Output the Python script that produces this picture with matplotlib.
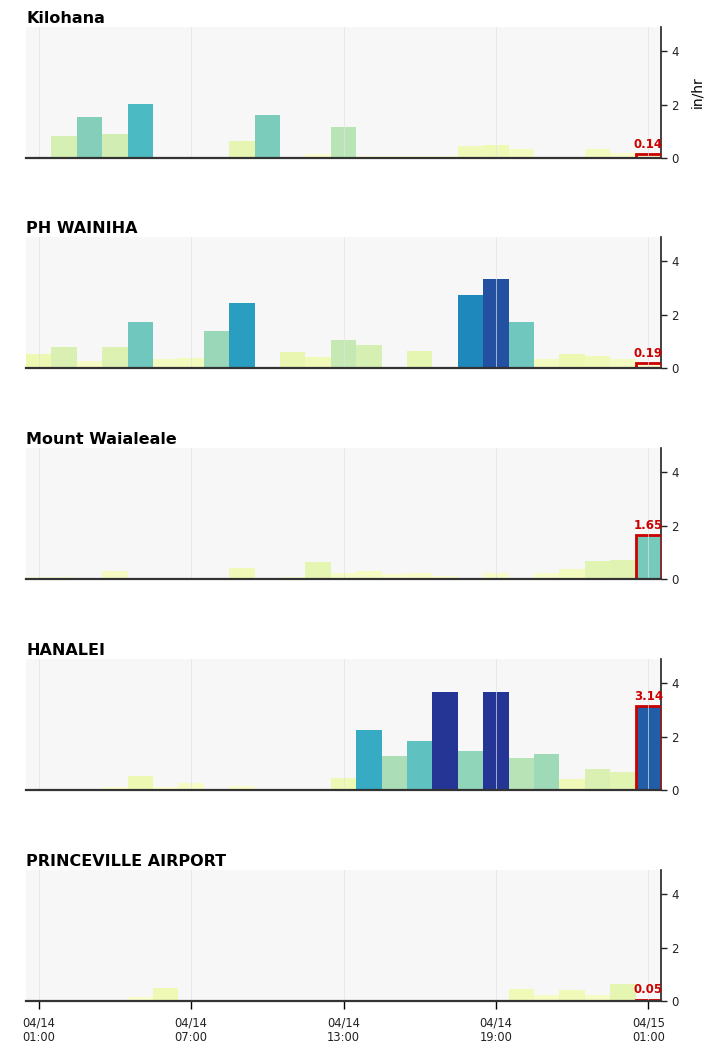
import numpy as np
import matplotlib
matplotlib.use('Agg')
import matplotlib.pyplot as plt
from matplotlib.colors import Normalize

# hourly rain rate (in/hr), 04/14 01:00 .. 04/15 01:00
stations = ['Kilohana', 'PH WAINIHA', 'Mount Waialeale', 'HANALEI', 'PRINCEVILLE AIRPORT']

kilohana = [0.02, 0.84, 1.53, 0.91, 2.01, 0.0, 0.0, 0.0, 0.63, 1.60, 0.05, 0.15, 1.16,
            0.08, 0.08, 0.08, 0.08, 0.44, 0.47, 0.32, 0.0, 0.0, 0.35, 0.17, 0.14]
wainiha = [0.53, 0.80, 0.25, 0.77, 1.72, 0.35, 0.38, 1.39, 2.43, 0.05, 0.60, 0.43, 1.06,
           0.85, 0.03, 0.65, 0.0, 2.72, 3.33, 1.72, 0.35, 0.52, 0.45, 0.33, 0.19]
waialeale = [0.07, 0.07, 0.03, 0.31, 0.03, 0.03, 0.02, 0.03, 0.43, 0.05, 0.08, 0.65, 0.24,
             0.31, 0.19, 0.22, 0.10, 0.05, 0.22, 0.05, 0.21, 0.36, 0.68, 0.72, 1.65]
hanalei = [0.0, 0.0, 0.0, 0.10, 0.51, 0.10, 0.26, 0.03, 0.16, 0.0, 0.0, 0.0, 0.46,
           2.25, 1.26, 1.84, 3.65, 1.46, 3.65, 1.18, 1.35, 0.43, 0.80, 0.68, 3.14]
princeville = [0.0, 0.0, 0.0, 0.0, 0.15, 0.48, 0.03, 0.0, 0.0, 0.0, 0.0, 0.0, 0.0,
               0.0, 0.0, 0.0, 0.0, 0.0, 0.0, 0.44, 0.24, 0.43, 0.23, 0.64, 0.05]
all_data = [kilohana, wainiha, waialeale, hanalei, princeville]

hours = np.arange(25)  # hours after 04/14 01:00
tick_pos = [0, 6, 12, 18, 24]
tick_labels = ['04/14\n01:00', '04/14\n07:00', '04/14\n13:00', '04/14\n19:00', '04/15\n01:00']

cmap = plt.get_cmap('YlGnBu')
norm = Normalize(0, 4.2)

fig = plt.figure(figsize=(7.1, 10.45), dpi=100)
W, H = 710, 1045
left, right = 26, 661
tops = [27, 237, 448, 659, 870]
axh = 131

for i, (name, vals) in enumerate(zip(stations, all_data)):
    top = tops[i]
    ax = fig.add_axes([left / W, 1 - (top + axh) / H, (right - left) / W, axh / H])
    ax.set_facecolor('#f7f7f7')
    vals = np.array(vals)
    ax.bar(hours, vals, width=1.0, color=cmap(norm(vals)), zorder=2)
    # highlight latest hour
    ax.bar(hours[-1], vals[-1], width=1.0, color=cmap(norm(vals[-1])),
           edgecolor='#cc0000', linewidth=2, zorder=3)
    ax.text(hours[-1], vals[-1] + 0.12, f'{vals[-1]:.2f}', color='#cc0000',
            fontsize=8.5, fontweight='bold', ha='center', va='bottom', zorder=5)

    ax.set_xlim(-0.5, 24.5)
    ax.set_ylim(0, 4.9)
    for t in tick_pos:
        ax.axvline(t, color='#e2e2e2', lw=0.6, alpha=0.8, zorder=4)

    ax.yaxis.tick_right()
    ax.set_yticks([0, 2, 4])
    ax.tick_params(axis='y', labelsize=8.5, length=4, width=1, colors='#222222')
    for s in ['left', 'top']:
        ax.spines[s].set_visible(False)
    ax.spines['right'].set_color('#222222')
    ax.spines['right'].set_linewidth(1.2)
    ax.spines['bottom'].set_color('#333333')
    ax.spines['bottom'].set_linewidth(1.6)
    ax.spines['bottom'].set_zorder(6)

    ax.set_xticks(tick_pos)
    if i == len(stations) - 1:
        ax.set_xticklabels(tick_labels, fontsize=8.3, color='#222222')
        ax.tick_params(axis='x', length=6, width=1, pad=5)
    else:
        ax.tick_params(axis='x', length=0, labelbottom=False)

    if i == 0:
        ax.yaxis.set_label_position('right')
        ax.set_ylabel('in/hr', fontsize=10, labelpad=8)

    ax.set_title(name, loc='left', fontsize=11.5, fontweight='bold', pad=3)

fig.savefig('out.png', dpi=100)
